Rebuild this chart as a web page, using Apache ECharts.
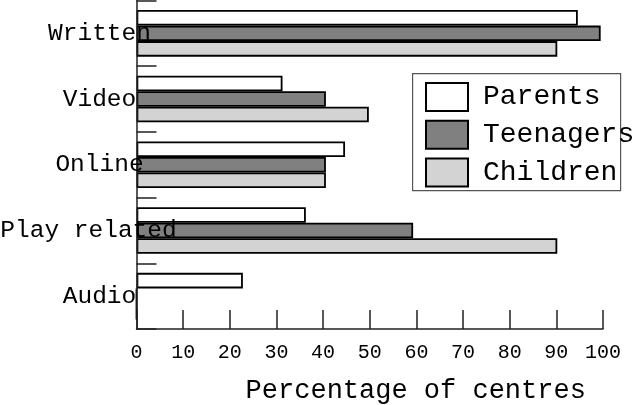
<!DOCTYPE html>
<html>
<head>
<meta charset="utf-8">
<style>html,body{margin:0;padding:0;background:#fff;}#c{width:640px;height:405px;}</style>
<script src="https://cdn.jsdelivr.net/npm/echarts@6/dist/echarts.min.js"></script>
</head>
<body>
<div id="c"></div>
<script>
var categories = ['Written', 'Video', 'Online', 'Play related', 'Audio'];
var parents   = [94.6, 31.3, 44.7, 36.3, 22.8];
var teenagers = [99.5, 40.6, 40.6, 59.3, 0];
var children  = [90.2, 49.8, 40.6, 90.2, 0];
var xTicks = [0, 10, 20, 30, 40, 50, 60, 70, 80, 90, 100];

var FONT = 'Liberation Mono';
var chart = echarts.init(document.getElementById('c'), null, {renderer: 'canvas'});

var catData = categories.map(function (c) {
  if (c === 'Play related') {
    return {value: c, textStyle: {align: 'center', padding: [0, 22, 0, 0],
      fontFamily: FONT, fontSize: 24.5, color: '#000'}};
  }
  return c;
});

function bar(name, data, color) {
  return {
    name: name, type: 'bar', data: data,
    barGap: '0%', barCategoryGap: '29%',
    itemStyle: {color: color, borderColor: '#000', borderWidth: 1.8},
    emphasis: {disabled: true},
    animation: false
  };
}

chart.setOption({
  backgroundColor: '#fff',
  animation: false,
  grid: {left: 136.5, right: 37, top: 0.5, bottom: 76, containLabel: false, outerBoundsMode: 'none'},
  legend: {
    orient: 'vertical', left: 425, top: 82, icon: 'rect',
    itemWidth: 42, itemHeight: 28, itemGap: 7.8, padding: 0,
    textStyle: {fontFamily: FONT, fontSize: 28, color: '#000', padding: [0, 0, 0, 10]},
    data: ['Parents', 'Teenagers', 'Children'],
    selectedMode: false
  },
  graphic: [{
    type: 'rect', left: 412, top: 73, z: 1,
    shape: {width: 208, height: 117},
    style: {fill: '#fff', stroke: '#555', lineWidth: 1.2}
  }],
  xAxis: {
    type: 'value', min: xTicks[0], max: xTicks[xTicks.length - 1], interval: 10,
    name: 'Percentage of centres', nameLocation: 'middle', nameGap: 48,
    nameTextStyle: {fontFamily: FONT, fontSize: 27, color: '#000', padding: [0, 0, 0, 92]},
    axisLine: {show: true, lineStyle: {color: '#222', width: 1.5}},
    axisTick: {show: true, inside: true, length: 19, lineStyle: {color: '#222', width: 1.5}},
    axisLabel: {fontFamily: FONT, fontSize: 20, color: '#000', margin: 14, hideOverlap: false},
    splitLine: {show: false}
  },
  yAxis: {
    type: 'category', inverse: true, data: catData, z: 5,
    axisLine: {show: true, lineStyle: {color: '#222', width: 1.5}},
    axisTick: {show: true, inside: true, length: 20, lineStyle: {color: '#222', width: 1.5}},
    axisLabel: {fontFamily: FONT, fontSize: 24.5, color: '#000', align: 'center', margin: 37},
    splitLine: {show: false}
  },
  series: [
    bar('Parents', parents, '#ffffff'),
    bar('Teenagers', teenagers, '#808080'),
    bar('Children', children, '#d3d3d3')
  ]
});
</script>
</body>
</html>
